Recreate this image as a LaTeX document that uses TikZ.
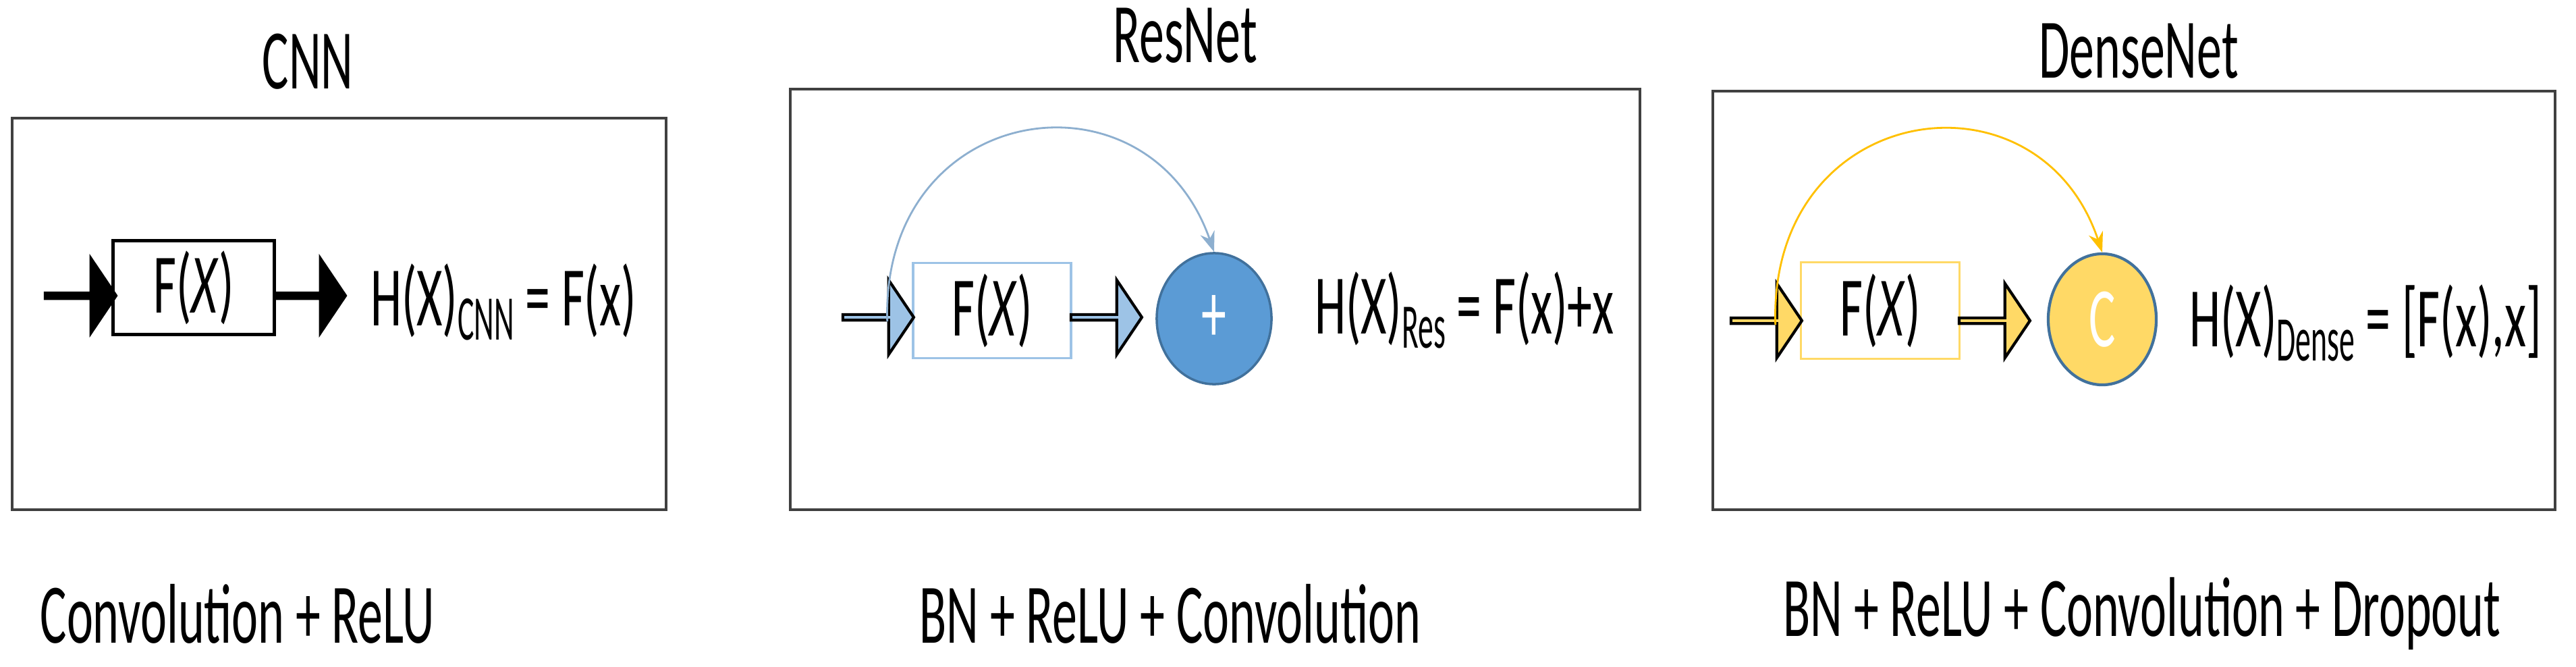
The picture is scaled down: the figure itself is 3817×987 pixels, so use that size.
\documentclass[tikz,border=0pt]{standalone}
\usepackage{fontspec}
\setmainfont{Carlito}
\usetikzlibrary{shapes.arrows,shapes.geometric,arrows.meta,positioning}
\definecolor{resfill}{HTML}{9DC3E6}
\definecolor{resdark}{HTML}{5B9BD5}
\definecolor{resline}{HTML}{41719C}
\definecolor{densefill}{HTML}{FFD966}
\definecolor{densecurve}{HTML}{FFC000}
\newcommand{\talltext}[1]{\scalebox{1}[1.7]{#1}}
\newcommand{\lowsub}[1]{\raisebox{-0.35ex}{\scalebox{0.62}[0.75]{#1}}}
\tikzset{
  panel/.style={draw=black!75, line width=0.9pt},
  label text/.style={font=\fontsize{21}{25}\selectfont},
  blockarrow/.style={single arrow, draw=black, line width=1.2pt, inner sep=0pt,
    minimum width=1.1cm, minimum height=1.05cm, single arrow head extend=0.26cm,
    single arrow tip angle=112},
  fbox/.style={draw, rectangle, line width=1pt, inner sep=0pt, label text},
  skip/.style={-{Stealth[length=0.3cm,width=0.22cm]}, line width=0.8pt},
}
\begin{document}
\begin{tikzpicture}[x=0.01cm,y=-0.01cm]
  \useasboundingbox (0,0) rectangle (3817,987);

  % CNN
  \draw[panel] (18,175) rectangle (987,755);
  \node[label text] (cnnT) at (456,91) {\talltext{CNN}};
  \node[fbox, minimum width=2.38cm, minimum height=1.39cm, line width=1.4pt] (cnnF) at (287,426) {\talltext{F(\textit{X})}};
  \node[blockarrow, fill=black] (cnnIn) at (118,438) {};
  \node[blockarrow, fill=black] (cnnOut) at (458,438) {};
  \node[label text] (cnnH) at (746,447) {\talltext{H(X)\lowsub{CNN} = F(x)}};
  \node[label text] (cnnB) at (352,909) {\talltext{Convolution + ReLU}};

  % ResNet
  \draw[panel] (1171,132) rectangle (2430,755);
  \node[label text] (resT) at (1756,53) {\talltext{ResNet}};
  \node[fbox, draw=resfill, minimum width=2.34cm, minimum height=1.41cm] (resF) at (1470,460) {\talltext{F(\textit{X})}};
  \node[blockarrow, fill=resfill] (resIn) at (1300,470) {};
  \node[blockarrow, fill=resfill] (resOut) at (1638,470) {};
  \node[ellipse, fill=resdark, draw=resline, line width=1pt, minimum width=1.7cm, minimum height=1.94cm,
    text=white, label text] (resPlus) at (1799,472) {\talltext{+}};
  \node[label text] (resH) at (2170,459) {\talltext{H(X)\lowsub{Res} = F(x)+x}};
  \node[label text] (resB) at (1734,909) {\talltext{BN + ReLU + Convolution}};
  \draw[skip, resfill!90!black] (resIn.after head) .. controls (1305,150) and (1700,90) .. (resPlus.north);

  % DenseNet
  \draw[panel] (2538,135) rectangle (3786,755);
  \node[label text] (denT) at (3169,76) {\talltext{DenseNet}};
  \node[fbox, draw=densefill, minimum width=2.35cm, minimum height=1.43cm] (denF) at (2786,460) {\talltext{F(\textit{X})}};
  \node[blockarrow, fill=densefill] (denIn) at (2616,475) {};
  \node[blockarrow, fill=densefill] (denOut) at (2954,475) {};
  \node[ellipse, fill=densefill, draw=resline, line width=1.2pt, minimum width=1.6cm, minimum height=1.94cm,
    text=white, label text] (denC) at (3115,473) {\talltext{C}};
  \node[label text] (denH) at (3505,478) {\talltext{H(X)\lowsub{Dense} = [F(x),x]}};
  \node[label text] (denB) at (3174,909) {\talltext{BN + ReLU + Convolution + Dropout}};
  \draw[skip, densecurve] (denIn.after head) .. controls (2620,150) and (3020,90) .. (denC.north);
\end{tikzpicture}
\end{document}
